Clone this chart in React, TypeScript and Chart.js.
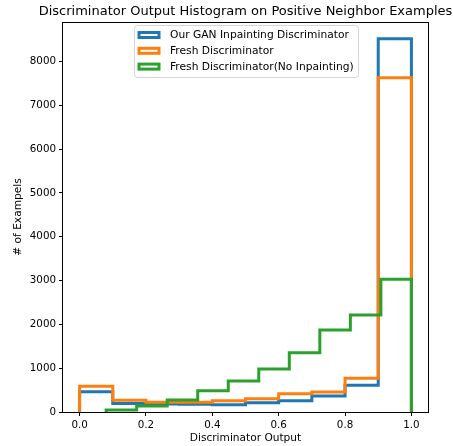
import { useEffect, useRef } from "react";
import { Chart, registerables } from "chart.js";

Chart.register(...registerables);

const binEdges = [0, 0.1, 0.2, 0.3, 0.4, 0.5, 0.6, 0.7, 0.8, 0.9, 1.0];
const noInpaintEdges = [0.08, 0.172, 0.264, 0.356, 0.448, 0.54, 0.632, 0.724, 0.816, 0.908, 1.0];
const seriesNames = [
  "Our GAN Inpainting Discriminator",
  "Fresh Discriminator",
  "Fresh Discriminator(No Inpainting)",
];
const ganCounts = [460, 195, 185, 175, 165, 210, 255, 365, 609, 8520];
const freshCounts = [590, 270, 220, 225, 255, 300, 415, 456, 768, 7630];
const noInpaintCounts = [45, 135, 274, 485, 707, 980, 1350, 1870, 2213, 3030];
const xTickValues = [0, 0.2, 0.4, 0.6, 0.8, 1.0];
const yTickValues = [0, 1000, 2000, 3000, 4000, 5000, 6000, 7000, 8000];
const colors = ["#1f77b4", "#ff7f0e", "#2ca02c"];
const titleText = "Discriminator Output Histogram on Positive Neighbor Examples";
const xLabel = "Discriminator Output";
const yLabel = "# of Exampels";

function stepPoints(edges: number[], counts: number[]) {
  const pts: { x: number; y: number }[] = [{ x: edges[0], y: 0 }];
  counts.forEach((c, i) => pts.push({ x: edges[i], y: c }));
  pts.push({ x: edges[edges.length - 1], y: 0 });
  return pts;
}

const FONT = "DejaVu Sans";

const spinePlugin = {
  id: "spines",
  afterDatasetsDraw(chart: any) {
    const { ctx, chartArea } = chart;
    ctx.save();
    ctx.strokeStyle = "#000";
    ctx.lineWidth = 1;
    const l = Math.round(chartArea.left) - 0.5;
    const t = Math.round(chartArea.top) + 0.5;
    const r = Math.round(chartArea.right) + 0.5;
    const b = Math.round(chartArea.bottom) + 0.5;
    ctx.strokeRect(l, t, r - l, b - t);
    ctx.restore();
  },
};

const titlePlugin = {
  id: "axesTitle",
  afterDraw(chart: any) {
    const { ctx, chartArea } = chart;
    ctx.save();
    ctx.font = `13px "${FONT}"`;
    ctx.fillStyle = "#000";
    ctx.textAlign = "center";
    ctx.textBaseline = "middle";
    ctx.fillText(titleText, (chartArea.left + chartArea.right) / 2, 11.5);
    ctx.restore();
  },
};

const legendPlugin = {
  id: "boxLegend",
  afterDraw(chart: any) {
    const { ctx, chartArea } = chart;
    const cx = (chartArea.left + chartArea.right) / 2;
    const w = 224;
    const h = 52;
    const x0 = Math.round(cx - w / 2) + 0.5;
    const y0 = chartArea.top + 3.5;
    ctx.save();
    ctx.beginPath();
    if (ctx.roundRect) ctx.roundRect(x0, y0, w, h, 3);
    else ctx.rect(x0, y0, w, h);
    ctx.fillStyle = "rgba(255,255,255,0.8)";
    ctx.fill();
    ctx.strokeStyle = "rgba(204,204,204,0.8)";
    ctx.lineWidth = 1;
    ctx.stroke();
    ctx.font = `10.7px "${FONT}"`;
    ctx.textBaseline = "middle";
    ctx.textAlign = "left";
    seriesNames.forEach((name, i) => {
      const cy = y0 + 9.5 + i * 15.8;
      ctx.fillStyle = "#fff";
      ctx.strokeStyle = colors[i];
      ctx.lineWidth = 3;
      ctx.lineJoin = "miter";
      ctx.fillRect(x0 + 4.5, cy - 2.5, 20, 5);
      ctx.strokeRect(x0 + 4.5, cy - 2.5, 20, 5);
      ctx.fillStyle = "#000";
      ctx.fillText(name, x0 + 35.5, cy + 0.5);
    });
    ctx.restore();
  },
};

export default function App() {
  const canvasRef = useRef<HTMLCanvasElement | null>(null);

  useEffect(() => {
    if (!canvasRef.current) return;
    const allCounts = [ganCounts, freshCounts, noInpaintCounts];
    const allEdges = [binEdges, binEdges, noInpaintEdges];
    const chart = new Chart(canvasRef.current, {
      type: "line",
      data: {
        datasets: seriesNames.map((name, i) => ({
          label: name,
          data: stepPoints(allEdges[i], allCounts[i]),
          borderColor: colors[i],
          backgroundColor: colors[i],
          borderWidth: 3,
          pointRadius: 0,
          pointHoverRadius: 0,
          fill: false,
          stepped: "before" as const,
          tension: 0,
          borderJoinStyle: "miter" as const,
          borderCapStyle: "butt" as const,
          order: 3 - i,
        })),
      },
      options: {
        animation: false,
        responsive: false,
        devicePixelRatio: 1,
        layout: { padding: { left: 0, right: 25, top: 22, bottom: 0 } },
        plugins: {
          legend: { display: false },
          tooltip: { enabled: false },
          title: { display: false },
        },
        scales: {
          x: {
            type: "linear",
            min: -0.05,
            max: 1.05,
            afterBuildTicks: (s: any) => {
              s.ticks = xTickValues.map((v) => ({ value: v }));
            },
            afterFit: (s: any) => {
              s.height = 34;
            },
            ticks: {
              callback: (v: any) => Number(v).toFixed(1),
              color: "#000",
              font: { family: FONT, size: 10.3 },
              padding: 3,
              maxRotation: 0,
              autoSkip: false,
            },
            grid: { drawOnChartArea: false, drawTicks: true, tickLength: 4, color: "#000" },
            border: { display: false },
            title: {
              display: true,
              text: xLabel,
              color: "#000",
              font: { family: FONT, size: 10.6, lineHeight: 1.2 },
              padding: { top: 0, bottom: 1 },
            },
          },
          y: {
            type: "linear",
            min: 0,
            max: 8900,
            afterBuildTicks: (s: any) => {
              s.ticks = yTickValues.map((v) => ({ value: v }));
            },
            afterFit: (s: any) => {
              s.width = 63;
            },
            ticks: {
              callback: (v: any) => String(v),
              color: "#000",
              font: { family: FONT, size: 10.3 },
              padding: 3,
              autoSkip: false,
            },
            grid: { drawOnChartArea: false, drawTicks: true, tickLength: 4, color: "#000" },
            border: { display: false },
            title: {
              display: true,
              text: yLabel,
              color: "#000",
              font: { family: FONT, size: 10.6, lineHeight: 1.2 },
              padding: { top: 11.6, bottom: 0 },
            },
          },
        },
      },
      plugins: [spinePlugin, titlePlugin, legendPlugin],
    });
    return () => chart.destroy();
  }, []);

  return (
    <div style={{ position: "absolute", left: 0, top: 0, width: 453, height: 446, background: "#fff" }}>
      <canvas ref={canvasRef} width={453} height={446} />
    </div>
  );
}
